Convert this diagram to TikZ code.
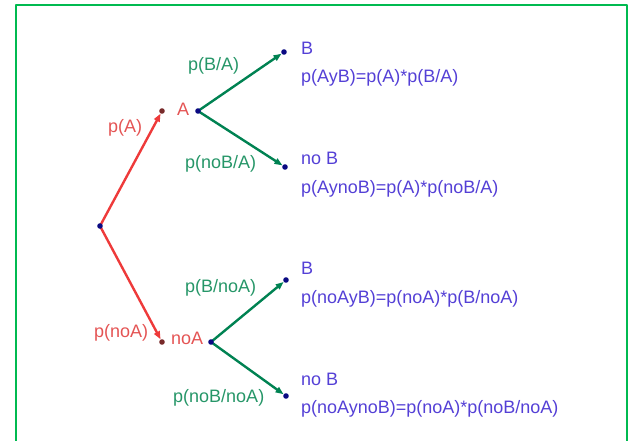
\documentclass[tikz,border=0pt]{standalone}
\usepackage{fontspec}
\setmainfont{Liberation Sans}
\usetikzlibrary{arrows.meta}
\definecolor{rojo}{RGB}{238,58,58}
\definecolor{rojotxt}{RGB}{228,84,84}
\definecolor{verde}{RGB}{0,130,82}
\definecolor{verdetxt}{RGB}{38,150,104}
\definecolor{azultxt}{RGB}{84,64,214}
\definecolor{azul}{RGB}{10,10,130}
\definecolor{marron}{RGB}{120,42,42}
\definecolor{borde}{RGB}{0,186,80}
\tikzset{
  rama/.style={->, line width=2.4pt, shorten >=3pt},
  txt/.style={anchor=base west, inner sep=0pt},
  punto/.style={fill=azul}
}
\begin{document}
\begin{tikzpicture}[x=1pt, y=-1pt, font=\fontsize{18}{22}\selectfont, line join=round, line cap=round, >={Triangle[length=8pt,width=6pt]}]
		\useasboundingbox (0,0) rectangle (630,441);
		\draw[borde, line width=2.5pt] (16,450)--(16,5)--(627,5)--(627,450);
		% puntos del arbol
		\coordinate (O) at (100,226);
		\coordinate (A) at (162,111);   \coordinate (A2) at (198,111);
		\coordinate (nA) at (162,342);  \coordinate (nA2) at (211,342);
		\coordinate (B1) at (284,52);   \coordinate (nB1) at (285,167);
		\coordinate (B2) at (286,280);  \coordinate (nB2) at (286,396);
		\draw[rama, rojo] (O)--(A);
		\draw[rama, rojo] (O)--(nA);
		\draw[rama, verde] (A2)--(B1);
		\draw[rama, verde] (A2)--(nB1);
		\draw[rama, verde] (nA2)--(B2);
		\draw[rama, verde] (nA2)--(nB2);
		\fill[azul] (O) circle (2.8pt) (A2) circle (2.8pt) (nA2) circle (2.8pt)
		  (B1) circle (2.8pt) (nB1) circle (2.8pt) (B2) circle (2.8pt) (nB2) circle (2.8pt);
		\fill[marron] (A) circle (2.8pt) (nA) circle (2.8pt);
		% probabilidades
		\node[txt, rojotxt] (pA) at (108,133) {p(A)};
		\node[txt, rojotxt] (lA) at (177,116) {A};
		\node[txt, rojotxt] (pnA) at (94,337) {p(noA)};
		\node[txt, rojotxt] (lnA) at (171,344) {noA};
		\node[txt, verdetxt] (pBA) at (188,71) {p(B/A)};
		\node[txt, verdetxt] (pnBA) at (185,169) {p(noB/A)};
		\node[txt, verdetxt] (pBnA) at (185,292) {p(B/noA)};
		\node[txt, verdetxt] (pnBnA) at (173,402) {p(noB/noA)};
		% resultados
		\node[txt, azultxt] (lB1) at (301,55) {B};
		\node[txt, azultxt] (f1) at (301,83) {p(AyB)=p(A)*p(B/A)};
		\node[txt, azultxt] (lnB1) at (301,165) {no B};
		\node[txt, azultxt] (f2) at (301,194) {p(AynoB)=p(A)*p(noB/A)};
		\node[txt, azultxt] (lB2) at (301,274) {B};
		\node[txt, azultxt] (f3) at (301,303) {p(noAyB)=p(noA)*p(B/noA)};
		\node[txt, azultxt] (lnB2) at (301,385) {no B};
		\node[txt, azultxt] (f4) at (301,413) {p(noAynoB)=p(noA)*p(noB/noA)};
\end{tikzpicture}
\end{document}
